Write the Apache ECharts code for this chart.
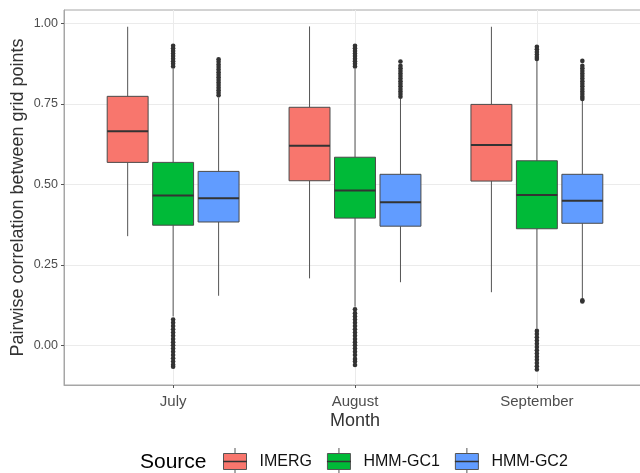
<!DOCTYPE html>
<html>
<head>
<meta charset="utf-8">
<script src="https://cdn.jsdelivr.net/npm/echarts@6/dist/echarts.min.js"></script>
<style>html,body{margin:0;padding:0;background:#fff}#c{width:640px;height:473px}</style>
</head>
<body>
<div id="c"></div>
<script>
// ---- data ----
const months = ['July', 'August', 'September'];
const sources = ['IMERG', 'HMM-GC1', 'HMM-GC2'];
const yTicks = [0, 0.25, 0.5, 0.75, 1.0];
// [lower whisker, Q1, median, Q3, upper whisker] per month
const imergStats = [
  [0.339, 0.568, 0.665, 0.773, 0.989],
  [0.208, 0.511, 0.620, 0.739, 0.990],
  [0.165, 0.510, 0.622, 0.748, 0.989]
];
const gc1Stats = [
  [0.090, 0.373, 0.465, 0.568, 0.858],
  [0.120, 0.395, 0.481, 0.584, 0.858],
  [0.052, 0.362, 0.467, 0.573, 0.884]
];
const gc2Stats = [
  [0.154, 0.383, 0.457, 0.540, 0.768],
  [0.196, 0.370, 0.444, 0.531, 0.765],
  [0.146, 0.379, 0.449, 0.531, 0.760]
];
// outlier values per month
const imergOut = [[], [], []];
const gc1Out = [
  [0.930, 0.922, 0.914, 0.906, 0.898, 0.890, 0.882, 0.874, 0.866,
   0.080, 0.070, 0.060, 0.050, 0.040, 0.030, 0.020, 0.010, 0.000, -0.010, -0.020, -0.030, -0.040, -0.050, -0.060, -0.066],
  [0.930, 0.922, 0.914, 0.906, 0.898, 0.890, 0.882, 0.874, 0.866,
   0.112, 0.100, 0.090, 0.080, 0.070, 0.060, 0.050, 0.040, 0.030, 0.020, 0.010, 0.000, -0.010, -0.020, -0.030, -0.042, -0.050, -0.061],
  [0.927, 0.919, 0.911, 0.903, 0.895, 0.889,
   0.045, 0.035, 0.025, 0.015, 0.005, -0.005, -0.015, -0.025, -0.035, -0.045, -0.055, -0.065, -0.075]
];
const gc2Out = [
  [0.888, 0.880, 0.872, 0.864, 0.856, 0.848, 0.840, 0.832, 0.824, 0.816, 0.808, 0.800, 0.792, 0.784, 0.776],
  [0.881, 0.868, 0.860, 0.852, 0.844, 0.836, 0.828, 0.820, 0.812, 0.804, 0.796, 0.788, 0.780, 0.772],
  [0.883, 0.868, 0.860, 0.852, 0.844, 0.836, 0.828, 0.820, 0.812, 0.804, 0.796, 0.788, 0.780, 0.772, 0.765, 0.140, 0.136]
];

// ---- style ----
const colors = ['#F8766D', '#00BA38', '#619CFF'];
const dodge = [-0.25, 0, 0.25];
const halfW = 0.1125;
const FONT = 'Liberation Sans, Arial, sans-serif';

const allStats = [imergStats, gc1Stats, gc2Stats];
const allOut = [imergOut, gc1Out, gc2Out];

function makeRender(k) {
  return function (params, api) {
    const x = api.value(0) + dodge[k];
    const lo = api.coord([x, api.value(1)]);
    const q1 = api.coord([x, api.value(2)]);
    const md = api.coord([x, api.value(3)]);
    const q3 = api.coord([x, api.value(4)]);
    const hi = api.coord([x, api.value(5)]);
    const hw = api.size([halfW, 0])[0];
    const cx = q1[0];
    return {
      type: 'group',
      children: [
        { type: 'line', shape: { x1: cx, y1: hi[1], x2: cx, y2: q3[1] }, style: { stroke: '#555', lineWidth: 1 } },
        { type: 'line', shape: { x1: cx, y1: q1[1], x2: cx, y2: lo[1] }, style: { stroke: '#555', lineWidth: 1 } },
        { type: 'rect', shape: { x: cx - hw, y: q3[1], width: 2 * hw, height: q1[1] - q3[1] },
          style: { fill: colors[k], stroke: '#4a4a4a', lineWidth: 1 } },
        { type: 'line', shape: { x1: cx - hw, y1: md[1], x2: cx + hw, y2: md[1] }, style: { stroke: '#333', lineWidth: 2 } }
      ]
    };
  };
}

const series = [];
sources.forEach((s, k) => {
  series.push({
    name: s,
    type: 'custom',
    renderItem: makeRender(k),
    itemStyle: { color: colors[k] },
    encode: { x: 0, y: [1, 2, 3, 4, 5] },
    data: months.map((m, i) => [i + 1].concat(allStats[k][i])),
    z: 2
  });
  const pts = [];
  months.forEach((m, i) => {
    allOut[k][i].forEach(v => pts.push([i + 1 + dodge[k], v]));
  });
  series.push({
    name: s + ' outliers',
    type: 'scatter',
    symbol: 'circle',
    symbolSize: 4.6,
    itemStyle: { color: '#333', opacity: 1 },
    data: pts,
    silent: true,
    z: 3
  });
});

const chart = echarts.init(document.getElementById('c'), null, { renderer: 'canvas' });
chart.setOption({
  animation: false,
  backgroundColor: '#fff',
  color: colors,
  grid: { left: 64, top: 10, right: -6, bottom: 88, show: true, borderColor: '#a6a6a6', borderWidth: 1,
          backgroundColor: 'transparent', outerBoundsMode: 'none', containLabel: false },
  xAxis: {
    type: 'value', min: 0.4, max: 3.6,
    name: 'Month', nameLocation: 'middle', nameGap: 27, nameMoveOverlap: false,
    nameTextStyle: { fontFamily: FONT, fontSize: 18, color: '#333' },
    axisLine: { show: true, onZero: false, lineStyle: { color: '#a6a6a6', width: 1 } },
    axisTick: { show: true, length: 3, customValues: [1, 2, 3], lineStyle: { color: '#555' } },
    axisLabel: { customValues: [1, 2, 3], formatter: v => months[Math.round(v) - 1], fontFamily: FONT, fontSize: 15, color: '#4d4d4d', margin: 9 },
    splitLine: { show: true, lineStyle: { color: '#ebebeb', width: 1 } }
  },
  yAxis: {
    type: 'value', min: -0.123, max: 1.041,
    name: 'Pairwise correlation between grid points', nameLocation: 'middle', nameGap: 37, nameMoveOverlap: false,
    nameTextStyle: { fontFamily: FONT, fontSize: 18, color: '#333' },
    axisLine: { show: true, onZero: false, lineStyle: { color: '#a6a6a6', width: 1 } },
    axisTick: { show: true, length: 3, customValues: yTicks, lineStyle: { color: '#555' } },
    axisLabel: { customValues: yTicks, formatter: v => v.toFixed(2), fontFamily: FONT, fontSize: 12.5, color: '#4d4d4d', margin: 6 },
    splitLine: { show: true, lineStyle: { color: '#ebebeb', width: 1 } }
  },
  legend: {
    data: sources,
    left: 223, top: 453, padding: 0,
    itemWidth: 23, itemHeight: 16, itemGap: 15,
    icon: 'rect',
    itemStyle: { borderColor: '#555', borderWidth: 1 },
    textStyle: { fontFamily: FONT, fontSize: 16, color: '#111', padding: [0, 0, 0, 8] },
    selectedMode: false
  },
  graphic: [
    { type: 'text', left: 140, top: 452, z: 100, style: { text: 'Source', font: '21px ' + FONT, fill: '#000' } }
  ],
  series: series
});

// legend key decorations (median line and whisker stubs), placed on the legend icons
function decorateLegend() {
  const view = chart.getViewOfComponentModel(chart.getModel().getComponent('legend'));
  const els = [];
  if (view && view._contentGroup) {
    view._contentGroup.children().forEach(item => {
      const icon = item.childAt(0);
      if (!icon) return;
      const r = icon.getBoundingRect();
      const gx = view.group.x + (view._contentGroup.x || 0) + item.x + r.x;
      const gy = view.group.y + (view._contentGroup.y || 0) + item.y + r.y;
      const cx = gx + r.width / 2, cy = gy + r.height / 2;
      els.push({ type: 'line', z: 100, shape: { x1: gx, y1: cy, x2: gx + r.width, y2: cy }, style: { stroke: '#333', lineWidth: 1.5 } });
      els.push({ type: 'line', z: 100, shape: { x1: cx, y1: gy - 5, x2: cx, y2: gy }, style: { stroke: '#555', lineWidth: 1 } });
      els.push({ type: 'line', z: 100, shape: { x1: cx, y1: gy + r.height, x2: cx, y2: gy + r.height + 5 }, style: { stroke: '#555', lineWidth: 1 } });
    });
  }
  chart.setOption({ graphic: [
    { type: 'text', left: 140, top: 452, z: 100, style: { text: 'Source', font: '21px ' + FONT, fill: '#000' } }
  ].concat(els) }, { replaceMerge: ['graphic'] });
}
try { decorateLegend(); } catch (e) { console.log(e); }
</script>
</body>
</html>
